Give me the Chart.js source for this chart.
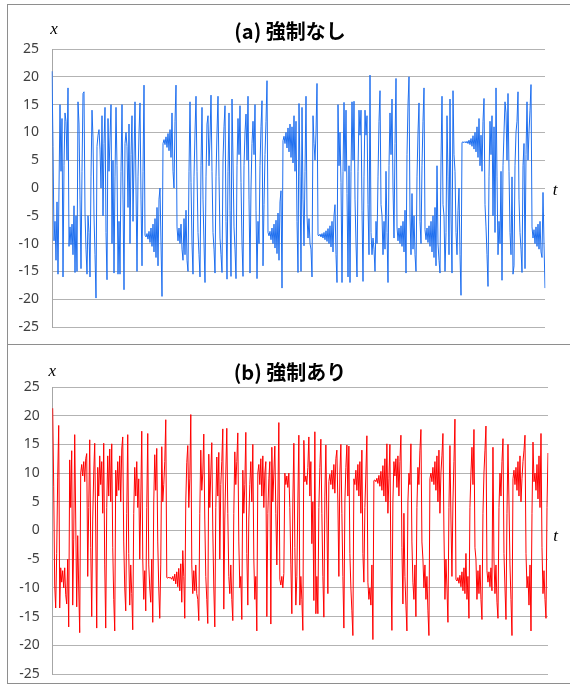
<!DOCTYPE html>
<html><head><meta charset="utf-8">
<script src="https://cdn.jsdelivr.net/npm/chart.js@4"></script>
<style>
html,body{margin:0;padding:0;background:#fff;}
body{width:570px;height:684px;position:relative;overflow:hidden;}
canvas{position:absolute;left:0;}
#cA{top:0}
#cB{top:344px}
.frame{position:absolute;left:7px;width:600px;border:1.5px solid #8e8e8e;box-sizing:border-box;}
</style></head><body>
<div class="frame" style="top:4px;height:341px"></div>
<div class="frame" style="top:344px;height:340px"></div>
<canvas id="cA" width="580" height="344"></canvas>
<canvas id="cB" width="580" height="340"></canvas>
<script>
// x(t) without forcing (a): uniform time samples
const xNoForcing = [
 21, 7.5, -9.5, -6, -13, -2.5, -15.5, 0, 15, 3,
 12.5, -16, 4, 13.5, 12, 5, 18, -10.5, -7, -10.2,
 -6.5, -12, -3.2, -15.2, -5, -15, 15.5, 11.5, -2, -14.5,
 3, 17, 17.3, -4.5, -11, -15.5, -5, -8, -16, 2,
 14, 9, -5, -12, -19.8, 7.5, 9.5, 10.5, 7, 0,
 13, -5, 8, 14.5, -8, -16.5, 12.5, 3, 9, 15,
 -10, 5, -15.3, 2, 14.5, 4, -15.5, -6, -15.5, 3,
 15, -2, -18.3, 8, 10, 7.5, -3.5, 11.5, -10, 6,
 13, -6, 5, 15.5, 0, -15, 2, 10, 15.3, -2,
 -14, 3, 18.5, -8.5, -8.8, -8.2, -9.2, -7.8, -9.8, -7.2,
 -10.5, -6.5, -11.5, -5.5, -12.5, -3.5, -14, -2, 0, -10,
 -19.5, 8, 8.7, 7.8, 9.2, 7.3, 9.8, 6.7, 10.5, 5.5,
 13.5, 3, 0, 12, 18.5, -7, -9.5, -7.2, -10, -6.5,
 -11, -13, -5.5, -12, -4, -13, -15, 3, 15.5, 1,
 -10, -15.5, 2, 10, 16.5, 3, -8, -12, -16, 4,
 14.5, -2, -10, -17, 2, 11.5, 13, 4, 9, 16.7,
 3, -8, -11, -15.3, 2, 10, 16.5, 2, -9, -12,
 -15.2, 5, 11, 14.8, -6, -16.4, 3, 13.5, -4, -15.9,
 16, 5, -7, -11, -16.3, 4, 12.5, 6, 14.8, 1,
 -10, -15.9, 4, 10, 13.3, 5, 16.5, -2, -15.3, 0,
 8, 12, 6, 15, -4, -16.3, -6, -10, 4, 11,
 15.7, -14, -3, 6, 12, 19.3, -8, -8.6, -7.8, -9.3,
 -7.2, -10, -6.5, -10.8, -5.8, -11.8, -4.5, -13, -2.5, -0.5,
 -18, 8.5, 9.3, 8, 10, 7.2, 10.8, 6.5, 11.5, 5.5,
 11, 4.5, 13, 3, 12, -6, -15.2, 15.2, 2, -15,
 14.5, -2, -10.4, 3, 16.5, -5, -9, -5.5, -10, -11,
 -16, 13, 8, 5, 10, 18.8, -8.5, -8.6, -8.3, -8.8,
 -8.2, -9, -8, -9.3, -7.7, -9.6, -7.3, -10, -6.8, -10.6,
 -6, -11.5, -5, -3, -12, -17, 15, 4, 10, 1,
 -17, 3, 15.4, 3, 14, -1, -16, 4, -17, 3,
 15.5, 5, 15.6, -2, -10, -16, 3, 14, 9.5, 14,
 -4, -16.8, 2, 14, 9.5, 13, -3, -12, 20.3, -8,
 -12, -9, -11, -15, -6, -10, 2, 12, 17.5, -3,
 -5, -12, -6, -11, 3, -8, -17, 4, 13.5, 6,
 16, 0, -9, 8, 19.7, -7, -9.5, -7.2, -10, -6.8,
 -10.5, -6, -11.5, -4, -15.3, 6, 15, 20, -5, -12,
 -1, -11, -5, -12, -15, 2, 10, 15.3, -6, -10,
 4, 12, 18, -7.5, -9.3, -7.2, -9.8, -6.8, -10.5, -6,
 -11.5, -5, -12.5, -3.5, -14, 4, -10, -13, -15.3, 5,
 16.5, -3, -5, -15, -8, 13, 2, -12, 16, -5,
 -15.3, 17.5, 6, 3, -8, -12, -4, 0, -12, -19.3,
 8.2, 8.3, 8.15, 8.35, 8.1, 8.4, 8, 8.6, 7.8, 8.9,
 7.5, 9.4, 7, 10, 6.5, 11, 5.5, 12.5, 4, 9.5,
 3, 12, 16.1, -3, -7, -12, -17.7, 2, 12, 6,
 13, -5, 11, -8, 18, 2, -12, -6, -10, 3,
 -16.6, 4, 10, 15.5, 13.5, 5, 17, 3, -8, -12,
 2, -15.5, -14, 4, 10, 12, 17.3, -2, -8, -11,
 -15.2, 4, 8, -14.5, 6, 15.5, 5, 10, 14, 18.6,
 -7, -9, -7.5, -10, -7, -10.5, -6.5, -11, -6, -11.5,
 -12.5, -0.8, -10, -18
];
// x(t) with forcing (b)
const xForcing = [
 21.3, 7.6, -9.5, -13.5, -4, 9.3, 18.3, -13.5, -6.5, -9,
 -7, -10, -6.5, -11.2, -12.8, -5, -16.8, 12.3, 4, 13.9,
 -13, -1.5, 16.7, 2, -13.3, -0.9, -10, -17.8, 10, 11.5,
 9.5, 12, 8.5, 12.5, 13.4, -8, 4, 15.8, -3, -15,
 2, 10, 15.2, 0, -17, 11, 6, 13, 8, 12,
 3, 15.2, -6, -17, 4, 13, 6, 14.2, 5, 15.1,
 -3, -12, -17.5, 10.5, 6, 12, 7, 13, 5, 14.2,
 16.3, -2, -10, -14, 3, 16.7, -4, -13, -6, -11,
 -17.3, 3, 11, 6, 12, 4, 9, -5, 5, 17.3,
 -5, -12, -7, -14, 4, 16.9, -6, -10, -12.5, -5,
 -16, 5, 13.2, 7, 14.3, -2, -10, -15.3, -6, 14.6,
 5, 8, 12, 19.3, -8.2, -8.3, -8.1, -8.3, -8.2, -8.5,
 -8, -8.8, -7.6, -9.3, -7.2, -9.8, -6.6, -10.5, -5.8, -12.5,
 -3.5, -8, -15.3, 5, 11.8, 14.8, 4, 9, 20.2, -6,
 -11, -7, -10.5, -6, -11, -12, -15.7, 3, 14, 7,
 10, 16.8, 2, -8, -12, -16.2, 13.3, 4, 10, 15.3,
 0, -10, -16.8, 4, 12.8, 6, 13.6, -5, 8, 12,
 17.7, -13.7, 2, 10, 17.8, 3, -8, -11, -6, -12,
 -15.7, 3, 13.7, 8, 12, 17, -2, -10, -8, -15.5,
 10.5, 3, 8, 17.1, -4, -13, 2, 8, 12, 5,
 15, -5, -12, -8, -17.5, 10, 11.5, 8, 12.5, 6,
 13, 4, 10, 12, -15, 3, 9, 12, -16.3, 14.5,
 5, 10, 14.7, 3, -6, 5, 18.8, -8.5, -9.5, -8,
 -10, -7.5, 10, 8, 9.5, 7.5, 10, 4, -6, -14.5,
 5, 15.2, -3, -13, -8, 5, 16.6, -13, -8, -12,
 -17.4, 15.7, 8.5, 9.5, 8, 11, 16.3, 6, 12, -2.3,
 5, -12.2, 17.2, -14.5, -8, -14.5, 4, 11, 15.9, 3,
 -8, -15.1, 6, 14.9, 2, -11, 8.5, 9.8, 8, 10.5,
 7.2, 11.5, 6.5, 12.5, 14, 5, -8, 10, 15, 3,
 -8, -17, 5, 11, 14.9, 6, 14.7, -4, -10, -14,
 -18.3, 9, 8, 10.5, 7, 11.5, 6, 12, 3, 14,
 -4, -9, 4, 10, 16.5, -9, -12, -10, -13, -6,
 -19, 8.7, 8.8, 8.5, 9.1, 8.2, 9.6, 7.7, 10.3, 7,
 11.3, 6, 12.5, 5, 15.1, 3, 9, 15, -6, -17.4,
 5, 12, 9.5, 12.5, 7.5, 13, 6, 12, 16.6, -3,
 -12.8, 3, -8, -13, -17.5, 5, 10, 8, 15.1, -2,
 -9, -12, -6, -15, 4, 11, 8, 14, 17.6, -2,
 -5, -10, -6, -12, -8, -14, -18.3, 9, 10, 8.5,
 11, 8, 12, 7, 13, 5, 14, 3, 10, 13,
 16.9, 0, -12, -5, -10, -16, 4, 14.8, 2, -8,
 5, 12, 19.4, -8.5, -8.8, -8.2, -9.2, -7.8, -9.8, -7.2,
 -10.5, -6.5, -11, -4, -12, -8, -15.3, 4, 10, 14.5,
 8, 17.6, -3, -5, -12, -7, -11, -6, -12, -15.5,
 3, 10, 14, 18.2, -7, -9, -7.2, -9.8, -6.5, -10.5,
 14.5, -5, -11, -6, -12.5, -15.3, 4, 10, 6, 12,
 16, -4, -10, -15.5, 3, 15, 5, -6, -12, -18.3,
 9, 10.5, 8, 11, 7, 12, 6, 13, 5, 9,
 12, 14, 16.6, -4, -10, -8, -13, -6, -17.5, 3,
 15.4, 8.5, 10, 7, 11.5, 5.5, 13, 4, 16.9, -3,
 -11, -7, -12, -15.3, 4, 13.5
];
const yTickValues = [-25, -20, -15, -10, -5, 0, 5, 10, 15, 20, 25];
const titleA = '(a) 強制なし';
const titleB = '(b) 強制あり';
const yName = 'x';
const tName = 't';

const axisLetters = {
  id: 'axisLetters',
  afterDraw(chart, args, o) {
    const {ctx, chartArea} = chart;
    ctx.save();
    ctx.font = 'italic 17px "Liberation Serif"';
    ctx.fillStyle = '#000';
    ctx.textAlign = 'center';
    ctx.textBaseline = 'middle';
    ctx.fillText(yName, chartArea.left + o.yDx, chartArea.top - o.yDy);
    const y0 = chart.scales.y.getPixelForValue(0);
    ctx.fillText(tName, chartArea.right + o.tDx, y0 + o.tDy);
    ctx.restore();
  }
};

function makeChart(id, title, values, color, cfg) {
  const samples = values.map((_, i) => i);
  return new Chart(document.getElementById(id), {
    type: 'line',
    data: {labels: samples, datasets: [{data: values, borderColor: color, borderWidth: 1,
      pointRadius: 0, tension: 0, fill: false, yAxisID: 'y'}]},
    options: {
      responsive: false, animation: false, devicePixelRatio: 1,
      layout: {padding: {left: 0, right: 0, top: 0, bottom: cfg.B}},
      plugins: {
        legend: {display: false}, tooltip: {enabled: false},
        title: {display: true, text: title, color: '#000',
          font: {family: '"Noto Sans CJK JP"', size: 20, weight: 'bold', lineHeight: 1.2},
          padding: {top: cfg.PT, bottom: cfg.PB}},
        axisLetters: cfg.letters
      },
      scales: {
        x: {display: false},
        y: {min: -25, max: 25, position: 'left',
          afterBuildTicks: s => { s.ticks = yTickValues.map(v => ({value: v})); },
          afterFit: s => { s.width = cfg.W; },
          ticks: {font: {family: '"Noto Sans"', size: 14}, color: '#404040', padding: 0},
          grid: {color: '#b3b3b3', lineWidth: 1, drawTicks: true, tickLength: 13, tickColor: 'rgba(0,0,0,0)'},
          border: {color: '#a6a6a6', width: 1}},
        yRight: {position: 'right', display: true, min: 0, max: 1,
          afterFit: s => { s.width = cfg.Wr; },
          ticks: {display: false}, grid: {display: false, drawTicks: false},
          border: {display: false}}
      }
    },
    plugins: [axisLetters]
  });
}

makeChart('cA', titleA, xNoForcing, '#1f6fef',
  {B: 17, PT: 19, PB: 6, W: 52, Wr: 35, letters: {yDx: 2, yDy: 19, tDx: 10, tDy: 3}});
makeChart('cB', titleB, xForcing, '#ff0000',
  {B: 10, PT: 16, PB: 3, W: 52.7, Wr: 32, letters: {yDx: -0.5, yDy: 15, tDx: 7.5, tDy: 6}});
</script></body></html>
